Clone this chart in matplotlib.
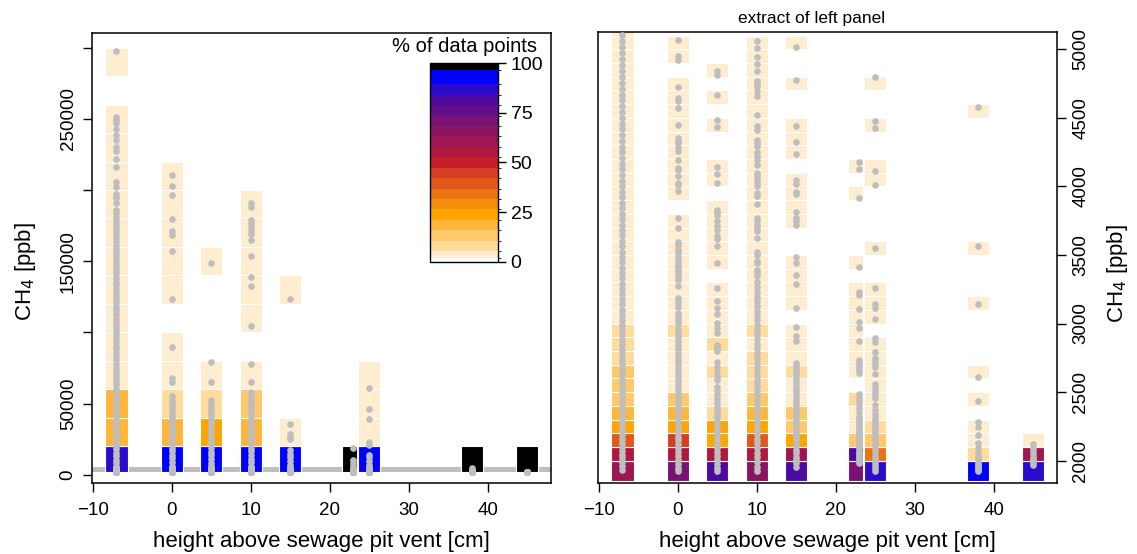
import matplotlib
matplotlib.use("Agg")
import matplotlib.pyplot as plt
import matplotlib as mpl
from matplotlib.colors import ListedColormap, BoundaryNorm
from matplotlib.patches import Rectangle

plt.rcParams['font.family'] = ['Liberation Sans', 'DejaVu Sans']

# ---------------------------------------------------------------- data
# sampling heights above the vent [cm]
positions = [-7, 0, 5, 10, 15, 23, 25, 38, 45]

# CH4 readings [ppb] at each height
ch4_m7 = [1932, 1961, 1987, 2016, 2044, 2071, 2102, 2129, 2158, 2190, 2217, 2248, 2279, 2311,
          2340, 2373, 2404, 2436, 2467, 2501, 2533, 2566, 2598, 2633, 2667, 2702, 2737, 2771,
          2808, 2844, 2879, 2916, 2953, 2989, 3027, 3063, 3102, 3139, 3177, 3215, 3253, 3290,
          3330, 3368, 3407, 3446, 3484, 3524, 3563, 3601, 3642, 3681, 3720, 3761, 3800, 3841,
          3880, 3921, 3961, 4002, 4043, 4083, 4125, 4166, 4207, 4249, 4290, 4332, 4374, 4416,
          4458, 4500, 4542, 4585, 4627, 4670, 4713, 4756, 4799, 4842, 4886, 4929, 4973, 5017,
          5060, 5104,
          5600, 8100, 10300, 12900, 15200, 17800, 20400, 22600, 25300, 27900, 30100, 32800,
          35300, 37700, 40400, 42800, 45200, 47700, 50300, 52800, 55200, 57800, 60400, 62900,
          65300, 67800, 70400, 72900, 75300, 77900, 80500, 82900, 85400, 88000, 90500, 92900,
          95600, 98000, 100500, 103000, 105500, 108000, 110400, 113000, 115500, 118000,
          120600, 123000, 125500, 128100, 130600, 133000, 135700, 138200, 140700, 143300,
          145800, 148300, 150900, 153400, 155900, 158500, 161000, 163600, 166100, 168700,
          171200, 173700, 176300, 178800, 181400, 183800, 186300,
          190700, 194200, 195300, 197200, 201900, 205600, 216400, 221600, 227600, 230400,
          235100, 238800, 243000, 247300, 249200, 251000, 297800]
ch4_0 = [1921, 1950, 1977, 2006, 2034, 2061, 2091, 2118, 2147, 2176, 2204, 2233, 2262, 2290,
         2319, 2348, 2377, 2406, 2434, 2463, 2493, 2521, 2550, 2580, 2609, 2638, 2667, 2697,
         2726, 2756, 2785, 2815, 2845, 2874, 2904, 2934, 2963, 2993, 3015, 3032, 3056, 3076,
         3124, 3149, 3168, 3185, 3275, 3319, 3331, 3355, 3380, 3400, 3420, 3441, 3465, 3489,
         3519, 3538, 3575, 3594, 3696, 3769, 3969, 4013, 4025, 4073, 4122, 4134, 4195, 4256,
         4287, 4322, 4334, 4353, 4448, 4570, 4621, 4645, 4725, 4920, 4954, 5070,
         6300, 8800, 11500, 13900, 16600, 19000, 21700, 24300, 26800, 29500, 32000, 34600,
         37200, 39700, 42300, 44900, 47400, 50100, 52600, 55200,
         65400, 67800, 90000, 123500, 157200, 168400, 171200, 179400, 196300, 202800, 210500]
ch4_5 = [1922, 1950, 1978, 2005, 2033, 2061, 2090, 2117, 2146, 2174, 2203, 2231, 2260, 2289,
         2318, 2347, 2371, 2394, 2419, 2448, 2480, 2511, 2540, 2589, 2613, 2650, 2682, 2723,
         2803, 2820, 2832, 2845, 2930, 2966, 3003, 3068, 3112, 3166, 3258,
         3441, 3567, 3616, 3640, 3684, 3708, 3745, 3793, 3810, 3830, 4025, 4091, 4142, 4433,
         4482, 4667, 4810, 4842,
         5900, 8400, 11000, 13600, 16100, 18800, 21300, 24000, 26500, 29100, 31700, 34300,
         36900, 39500, 42000, 44700, 47200, 49800, 52400, 65400, 79400, 149000]
ch4_10 = [1921, 1956, 1989, 2024, 2059, 2092, 2128, 2161, 2197, 2230, 2266, 2299, 2335, 2368,
          2404, 2437, 2473, 2506, 2542, 2575, 2611, 2644, 2680, 2713, 2749, 2782, 2818, 2851,
          2887, 2920, 2956, 2989, 3025, 3058, 3094, 3127, 3163, 3196, 3232, 3265, 3301,
          3343, 3368, 3392, 3441, 3453, 3501, 3518, 3623, 3672, 3696, 3720, 3745, 3769, 3874,
          3927, 3952, 4000, 4025, 4049, 4073, 4098, 4158, 4190, 4224, 4248, 4292, 4317, 4341,
          4414, 4438, 4523, 4657, 4693, 4730, 4742, 4766, 4844, 4896, 4944, 5010, 5058,
          6100, 8700, 11200, 13900, 16400, 19100, 21600, 24300, 26900, 29400, 32100, 34600,
          37300, 39900, 42400, 45100, 47600, 50300, 52800, 55500, 58000,
          65000, 77800, 104500, 132800, 139100, 153900, 164900, 169300, 170900, 173800,
          176600, 178900, 187900, 190700]
ch4_15 = [1956, 1980, 2005, 2030, 2055, 2080, 2105, 2130, 2155, 2180, 2205, 2230, 2255, 2280,
          2305, 2330, 2355, 2380, 2400, 2419, 2443, 2465, 2490, 2515, 2540, 2565, 2589, 2610,
          2630, 2650, 2670, 2690, 2711, 2876, 2910, 2978, 3112, 3290, 3355, 3441, 3482, 3720,
          3745, 3769, 3813, 3947, 3956, 4020, 4049, 4237, 4324, 4438, 4773, 5017,
          6800, 9500, 12300, 14800, 17400, 24900, 26800, 28700, 35700, 123500]
ch4_23 = [1981, 1995, 2010, 2026, 2042, 2058, 2074, 2090, 2106, 2122, 2138, 2154, 2170, 2186,
          2202, 2218, 2234, 2250, 2266, 2282, 2297, 2321, 2358, 2385, 2410, 2435, 2460, 2485,
          2638, 2660, 2680, 2705, 2720, 2735, 2876, 2964, 3008, 3105, 3205, 3227, 3411, 3915,
          4127, 4178, 6200, 8100, 10400, 18600]
ch4_25 = [1922, 1945, 1968, 1991, 2014, 2037, 2060, 2083, 2106, 2129, 2152, 2175, 2198, 2221,
          2244, 2267, 2290, 2309, 2340, 2370, 2407, 2455, 2480, 2504, 2530, 2560, 2633, 2682,
          2705, 2725, 2747, 2789, 2864, 2893, 3030, 3112, 3140, 3258, 3550, 4010, 4115, 4426,
          4474, 4795, 6900, 9800, 12700, 14100, 20900, 23200, 39000, 46200, 61200]
ch4_38 = [1921, 1932, 1944, 1955, 1966, 1978, 1990, 2010, 2030, 2055, 2090, 2127, 2188, 2248,
          2285, 2438, 2613, 3146, 3562, 4580]
ch4_45 = [1969, 1980, 1995, 2010, 2030, 2050, 2070, 2090, 2120]

# share of data points [%] per 20000 ppb class (class given by its lower edge)
pct20k_m7 = [(1855, 88), (20000, 18), (40000, 18), (60000, 3.5), (80000, 3.5), (100000, 3.5),
             (120000, 3.5), (140000, 3.5), (160000, 3.5), (180000, 3.5), (200000, 3.5),
             (220000, 3.5), (240000, 3.5), (280000, 3.5)]
pct20k_0 = [(1855, 92), (20000, 18), (40000, 8), (60000, 3.5), (80000, 3.5), (120000, 3.5),
            (140000, 3.5), (160000, 3.5), (180000, 3.5), (200000, 3.5)]
pct20k_5 = [(1855, 92), (20000, 23.5), (40000, 8), (60000, 3.5), (140000, 3.5)]
pct20k_10 = [(1855, 92), (20000, 18), (40000, 13), (60000, 3.5), (100000, 3.5), (120000, 3.5),
             (140000, 3.5), (160000, 3.5), (180000, 3.5)]
pct20k_15 = [(1855, 92), (20000, 3.5), (120000, 3.5)]
pct20k_23 = [(1855, 100)]
pct20k_25 = [(1855, 92), (20000, 3.5), (40000, 3.5), (60000, 3.5)]
pct20k_38 = [(1855, 100)]
pct20k_45 = [(1855, 100)]

# share of data points [%] per 100 ppb class
pct100_m7 = [(1855, 60), (2000, 55), (2100, 39), (2200, 23.5), (2300, 18), (2400, 13),
             (2500, 13), (2600, 13), (2700, 8), (2800, 8), (2900, 8), (3000, 3.5), (3100, 3.5),
             (3200, 3.5), (3300, 3.5), (3400, 3.5), (3500, 3.5), (3600, 3.5), (3700, 3.5),
             (3800, 3.5), (3900, 3.5), (4000, 3.5), (4100, 3.5), (4200, 3.5), (4300, 3.5),
             (4400, 3.5), (4500, 3.5), (4600, 3.5), (4700, 3.5), (4800, 3.5), (4900, 3.5),
             (5000, 3.5), (5100, 3.5)]
pct100_0 = [(1855, 71), (2000, 55), (2100, 45), (2200, 23.5), (2300, 18), (2400, 13),
            (2500, 3.5), (2600, 3.5), (2700, 3.5), (2800, 3.5), (2900, 8), (3000, 3.5),
            (3100, 3.5), (3200, 3.5), (3300, 3.5), (3400, 3.5), (3500, 3.5), (3600, 3.5),
            (3700, 3.5), (3900, 3.5), (4000, 3.5), (4100, 3.5), (4200, 3.5), (4300, 3.5),
            (4400, 3.5), (4500, 3.5), (4600, 3.5), (4700, 3.5), (4900, 3.5), (5000, 3.5)]
pct100_5 = [(1855, 81), (2000, 55), (2100, 23.5), (2200, 23.5), (2300, 8), (2400, 3.5),
            (2500, 3.5), (2600, 10), (2700, 3.5), (2800, 8), (2900, 3.5), (3000, 3.5),
            (3100, 3.5), (3200, 3.5), (3400, 3.5), (3500, 3.5), (3600, 3.5), (3700, 3.5),
            (3800, 3.5), (4000, 3.5), (4100, 3.5), (4400, 3.5), (4600, 3.5), (4800, 3.5)]
pct100_10 = [(1855, 65), (2000, 55), (2100, 39), (2200, 23.5), (2300, 18), (2400, 13),
             (2500, 8), (2600, 8), (2700, 8), (2800, 3.5), (2900, 8), (3000, 3.5), (3100, 3.5),
             (3200, 3.5), (3300, 3.5), (3400, 3.5), (3500, 3.5), (3600, 3.5), (3700, 3.5),
             (3800, 3.5), (3900, 3.5), (4000, 3.5), (4100, 3.5), (4200, 3.5), (4300, 3.5),
             (4400, 3.5), (4500, 3.5), (4600, 3.5), (4700, 3.5), (4800, 3.5), (4900, 3.5),
             (5000, 3.5)]
pct100_15 = [(1855, 81), (2000, 60), (2100, 23.5), (2200, 13), (2300, 13), (2400, 3.5),
             (2500, 3.5), (2600, 8), (2700, 3.5), (2800, 3.5), (2900, 3.5), (3100, 3.5),
             (3200, 3.5), (3300, 3.5), (3400, 3.5), (3700, 3.5), (3800, 3.5), (3900, 3.5),
             (4000, 3.5), (4200, 3.5), (4300, 3.5), (4400, 3.5), (4700, 3.5), (5000, 3.5)]
pct100_23 = [(1855, 71), (2000, 81), (2100, 13), (2200, 3.5), (2300, 3.5), (2400, 8),
             (2600, 3.5), (2700, 3.5), (2800, 3.5), (2900, 3.5), (3000, 3.5), (3100, 3.5),
             (3200, 3.5), (3400, 3.5), (3900, 3.5), (4100, 3.5)]
pct100_25 = [(1855, 87), (2000, 34), (2100, 13), (2200, 8), (2300, 3.5), (2400, 3.5),
             (2500, 3.5), (2600, 3.5), (2700, 3.5), (2800, 3.5), (3000, 3.5), (3100, 3.5),
             (3200, 3.5), (3500, 3.5), (4000, 3.5), (4100, 3.5), (4400, 3.5), (4700, 3.5)]
pct100_38 = [(1855, 92), (2000, 8), (2100, 3.5), (2200, 3.5), (2400, 3.5), (2600, 3.5),
             (3100, 3.5), (3500, 3.5), (4500, 3.5)]
pct100_45 = [(1855, 87), (2000, 60), (2100, 3.5)]

# colour classes of the percentage scale
pct_bounds = [0, 2, 5.26, 10.53, 15.79, 21.05, 26.32, 31.58, 36.84, 42.11, 47.37, 52.63,
              57.89, 63.16, 68.42, 73.68, 78.95, 84.21, 89.47, 96.8, 100]
pct_colors = ['#FFFFFF', '#FFEDD0', '#FFDC9C', '#FFC96A', '#FFB53A', '#FFA500', '#F58C0A',
              '#EC7312', '#E2581A', '#D63D21', '#C81D2B', '#B0193F', '#9D1752', '#8B1563',
              '#791274', '#640E88', '#4C0AA2', '#2C0BCF', '#0000FF', '#000000']

# ---------------------------------------------------------------- layout
ch4 = dict(zip(positions, [ch4_m7, ch4_0, ch4_5, ch4_10, ch4_15, ch4_23, ch4_25, ch4_38, ch4_45]))
cells_left = dict(zip(positions, [pct20k_m7, pct20k_0, pct20k_5, pct20k_10, pct20k_15,
                                  pct20k_23, pct20k_25, pct20k_38, pct20k_45]))
cells_right = dict(zip(positions, [pct100_m7, pct100_0, pct100_5, pct100_10, pct100_15,
                                   pct100_23, pct100_25, pct100_38, pct100_45]))

edges_left = [1855] + list(range(20000, 340000, 20000))
edges_right = [1855] + list(range(2000, 5400, 100))

# horizontal extent of the class boxes around each height [cm]
box_extent = {p: (p - 1.4, p + 1.4) for p in positions}
box_extent[23] = (21.55, 23.45)
box_extent[25] = (23.6, 26.4)

cmap = ListedColormap(pct_colors)
norm = BoundaryNorm(pct_bounds, cmap.N)

POINT_COLOR = '#BEBEBE'
XLIM = (-10.1, 48.0)
YLIM_LEFT = (-5800, 310300)
YLIM_RIGHT = (1837, 5126)

W, H = 1137, 554
fig = plt.figure(figsize=(W / 100, H / 100), dpi=100)
axL = fig.add_axes([92 / W, 71 / H, 459 / W, 450 / H])
axR = fig.add_axes([598 / W, 71 / H, 459 / W, 451 / H])


def draw_panel(ax, cells, edges):
    for p in positions:
        x0, x1 = box_extent[p]
        for lower, pct in cells[p]:
            i = edges.index(lower)
            ax.add_patch(Rectangle((x0, lower), x1 - x0, edges[i + 1] - lower,
                                   facecolor=cmap(norm(pct)), edgecolor='white',
                                   linewidth=0.8, zorder=2))
    for p in positions:
        ax.scatter([p] * len(ch4[p]), ch4[p], s=23, color=POINT_COLOR,
                   linewidths=0, zorder=3)


# left panel: full range, 20000 ppb classes
axL.axhspan(YLIM_RIGHT[0], YLIM_RIGHT[1], color=POINT_COLOR, zorder=1, linewidth=0)
draw_panel(axL, cells_left, edges_left)
axL.set_xlim(*XLIM)
axL.set_ylim(*YLIM_LEFT)
axL.set_yticks([0, 50000, 100000, 150000, 200000, 250000, 300000])
axL.set_yticklabels(['0', '50000', '', '150000', '', '250000', ''], rotation=90, va='center')
fig.text(25 / W, 1 - 272 / H, 'CH$_4$ [ppb]', rotation=90, ha='center', va='center',
         fontsize=16)

# right panel: low range, 100 ppb classes
draw_panel(axR, cells_right, edges_right)
axR.set_xlim(*XLIM)
axR.set_ylim(*YLIM_RIGHT)
axR.yaxis.tick_right()
axR.set_yticks(range(2000, 5001, 500))
axR.set_yticklabels([str(v) for v in range(2000, 5001, 500)], rotation=90, va='center')
fig.text(1118 / W, 1 - 274 / H, 'CH$_4$ [ppb]', rotation=90, ha='center', va='center',
         fontsize=16)
fig.text(812 / W, 1 - 18 / H, 'extract of left panel', ha='center', va='center', fontsize=12.5)

for ax in (axL, axR):
    ax.set_xticks([-10, 0, 10, 20, 30, 40])
    ax.set_xlabel('height above sewage pit vent [cm]', fontsize=16, labelpad=9)
    ax.tick_params(direction='out', length=6.5, width=1, labelsize=13.5)
    ax.tick_params(axis='x', pad=7)
    ax.tick_params(axis='y', pad=4.5)
    for s in ax.spines.values():
        s.set_linewidth(1.1)

# colour key
cax = fig.add_axes([430 / W, (H - 261.7) / H, 68 / W, 198.4 / H])
cb = fig.colorbar(mpl.cm.ScalarMappable(norm=norm, cmap=cmap), cax=cax,
                  ticks=[0, 25, 50, 75, 100], spacing='proportional')
cb.outline.set_linewidth(1)
cax.tick_params(direction='out', length=6, width=1, labelsize=14, pad=3)
fig.text(464 / W, 1 - 46 / H, '% of data points', ha='center', va='center', fontsize=14.5)

fig.savefig('out.png', dpi=100)
